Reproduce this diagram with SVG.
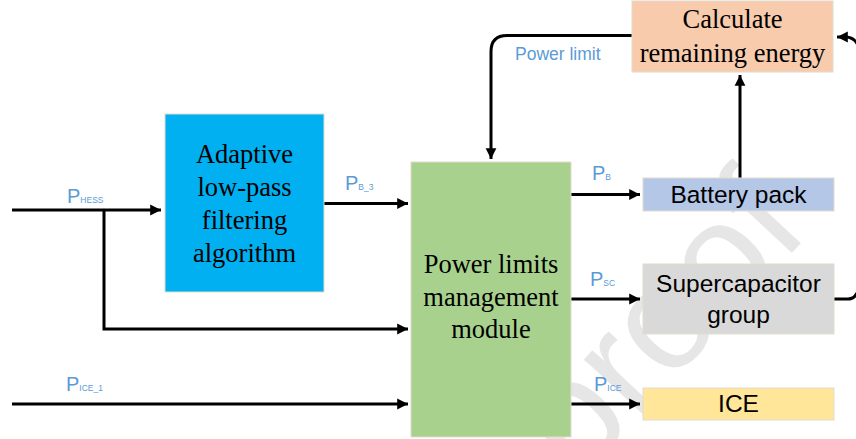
<svg xmlns="http://www.w3.org/2000/svg" width="856" height="439" viewBox="0 0 856 439">
  <style>
    .box { stroke: #e2dccf; stroke-width: 1; }
    .serif { font-family: "Liberation Serif", "Times New Roman", serif; font-size: 26.5px; fill: #000; text-anchor: middle; }
    .sans { font-family: "Liberation Sans", Arial, sans-serif; font-size: 24.5px; fill: #000; text-anchor: middle; }
    .sig { font-family: "Liberation Sans", Arial, sans-serif; font-size: 20px; fill: #5b9bd5; }
    .sub { font-size: 8.5px; }
    .wire { fill: none; stroke: #000; stroke-width: 3; }
    .mark { font-family: "Liberation Sans", Arial, sans-serif; font-size: 150px; fill: #e6e6e6; }
  </style>
  <defs>
    <marker id="arrow" viewBox="0 0 10 10" refX="10" refY="5" markerWidth="3.6" markerHeight="3.8" orient="auto" markerUnits="strokeWidth">
      <path d="M0,0 L10,5 L0,10 z" fill="#000"/>
    </marker>
  </defs>

  <rect width="856" height="439" fill="#fff"/>

  <!-- background watermark -->
  <text class="mark" transform="translate(578,482) rotate(-47)">proof</text>

  <!-- connectors -->
  <g id="connectors">
    <path class="wire" d="M12,210 L161,210" marker-end="url(#arrow)"/>
    <path class="wire" d="M104,210 L104,329 L408,329" marker-end="url(#arrow)"/>
    <path class="wire" d="M324,203.5 L408,203.5" marker-end="url(#arrow)"/>
    <path class="wire" d="M12,404 L408,404" marker-end="url(#arrow)"/>
    <path class="wire" d="M571,194.5 L640,194.5" marker-end="url(#arrow)"/>
    <path class="wire" d="M571,299 L640,299" marker-end="url(#arrow)"/>
    <path class="wire" d="M571,404 L640,404" marker-end="url(#arrow)"/>
    <path class="wire" d="M740,178 L740,75" marker-end="url(#arrow)"/>
    <path class="wire" d="M632,35.5 L507,35.5 Q491,35.5 491,51.5 L491,159" marker-end="url(#arrow)"/>
    <path class="wire" d="M858,45 Q854,37 845,37 L837,37" marker-end="url(#arrow)"/>
    <path class="wire" d="M834,299 L848,299 Q854,299 857,293"/>
  </g>

  <!-- signal labels -->
  <g id="labels">
    <text class="sig" x="515" y="59.5" style="font-size:17.5px">Power limit</text>
    <text class="sig" x="67" y="203">P<tspan class="sub">HESS</tspan></text>
    <text class="sig" x="345" y="189.5">P<tspan class="sub">B_3</tspan></text>
    <text class="sig" x="592" y="180">P<tspan class="sub">B</tspan></text>
    <text class="sig" x="590" y="286">P<tspan class="sub">SC</tspan></text>
    <text class="sig" x="594" y="391">P<tspan class="sub">ICE</tspan></text>
    <text class="sig" x="66" y="391">P<tspan class="sub">ICE_1</tspan></text>
  </g>

  <g id="calc-energy">
    <rect class="box" x="632" y="1" width="201" height="71" fill="#f8cbad"/>
    <text class="serif" x="732.5" y="28">Calculate</text>
    <text class="serif" x="732.5" y="62">remaining energy</text>
  </g>

  <g id="lpf">
    <rect class="box" x="165" y="114" width="159" height="178" fill="#00b0f0"/>
    <text class="serif" x="244.5" y="163">Adaptive</text>
    <text class="serif" x="244.5" y="196">low-pass</text>
    <text class="serif" x="244.5" y="229">filtering</text>
    <text class="serif" x="244.5" y="262">algorithm</text>
  </g>

  <g id="plm">
    <rect class="box" x="411" y="162" width="160" height="275" fill="#a9d18e"/>
    <text class="serif" x="491" y="273">Power limits</text>
    <text class="serif" x="491" y="306">management</text>
    <text class="serif" x="491" y="338">module</text>
  </g>

  <g id="battery">
    <rect class="box" x="643" y="178" width="191" height="33" fill="#b4c7e7"/>
    <text class="sans" x="738.5" y="203">Battery pack</text>
  </g>

  <g id="supercap">
    <rect class="box" x="643" y="264" width="191" height="70" fill="#d9d9d9"/>
    <text class="sans" x="738.5" y="292">Supercapacitor</text>
    <text class="sans" x="738.5" y="323">group</text>
  </g>

  <g id="ice">
    <rect class="box" x="643" y="388" width="191" height="32" fill="#ffe699"/>
    <text class="sans" x="738.5" y="412">ICE</text>
  </g>
</svg>
